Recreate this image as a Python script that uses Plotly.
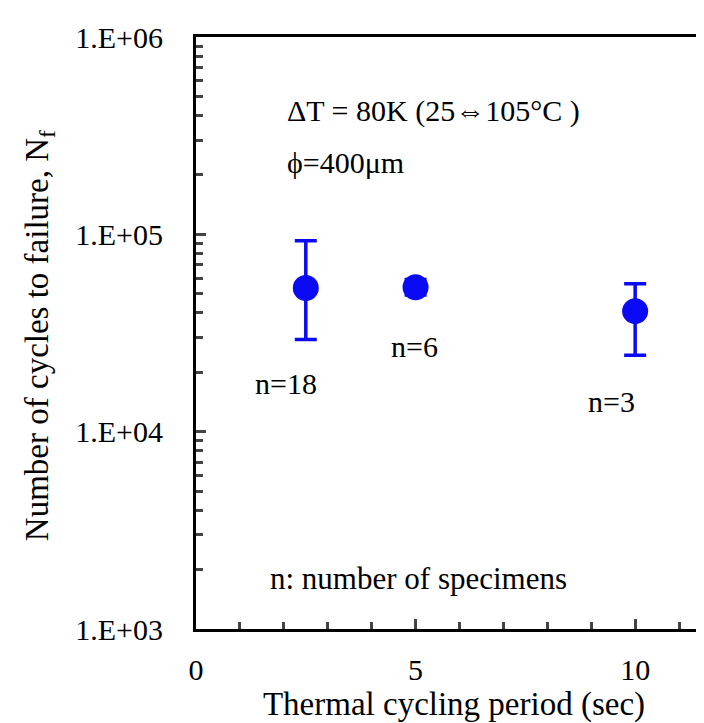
import math
import plotly.graph_objects as go

# thermal cycling period (sec) and cycles to failure
period = [2.5, 5, 10]
nf_mean = [53500, 53900, 40800]
nf_upper = [92900, 59000, 56100]
nf_lower = [29300, 49300, 24400]
n_labels = ["n=18", "n=6", "n=3"]
n_label_x = [2.05, 4.97, 9.45]
n_label_y = [17500, 26900, 14300]

ytick_vals = [1e3, 1e4, 1e5, 1e6]
ytick_text = ["1.E+03", "1.E+04", "1.E+05", "1.E+06"]

FONT = "Liberation Serif"
BLUE = "#0a0af5"

err_plus = [u - m for u, m in zip(nf_upper, nf_mean)]
err_minus = [m - l for m, l in zip(nf_mean, nf_lower)]

fig = go.Figure()
fig.add_trace(go.Scatter(
    x=period, y=nf_mean, mode="markers",
    marker=dict(size=26, color=BLUE),
    error_y=dict(type="data", symmetric=False, array=err_plus, arrayminus=err_minus,
                 color=BLUE, thickness=3.5, width=11),
    showlegend=False,
))

# annotations on a log axis take log10 positions
for lab, lx, ly in zip(n_labels, n_label_x, n_label_y):
    fig.add_annotation(x=lx, y=math.log10(ly), text=lab, showarrow=False,
                       font=dict(family=FONT, size=30, color="black"))

fig.add_annotation(x=2.03, y=5.625, text="ΔT = 80K (25⇔105°C )", showarrow=False,
                   xanchor="left", font=dict(family=FONT, size=30, color="black"))
fig.add_annotation(x=2.03, y=5.362, text="ϕ=400μm", showarrow=False,
                   xanchor="left", font=dict(family=FONT, size=30, color="black"))
fig.add_annotation(x=1.65, y=3.258, text="n: number of specimens", showarrow=False,
                   xanchor="left", font=dict(family=FONT, size=31, color="black"))
fig.add_annotation(x=-0.302, y=0.495, xref="paper", yref="paper", textangle=-90,
                   xanchor="center", yanchor="middle",
                   text="Number of cycles to failure, N<sub>f</sub>", showarrow=False,
                   font=dict(family=FONT, size=33, color="black"))

fig.update_xaxes(
    range=[0, 11.75], tickvals=[0, 5, 10], ticks="inside", ticklen=10, tickwidth=3,
    minor=dict(tickvals=[1, 2, 3, 4, 6, 7, 8, 9, 11], ticks="inside", ticklen=7, tickwidth=3),
    showline=True, linewidth=3, linecolor="black", mirror=True, showgrid=False, zeroline=False,
    ticklabelstandoff=12,
    tickfont=dict(family=FONT, size=30, color="black"),
    title=dict(text="Thermal cycling period (sec)", standoff=0,
               font=dict(family=FONT, size=33, color="black")),
)
minor_y = [m * 10 ** d for d in range(3, 6) for m in range(2, 10)]
fig.update_yaxes(
    type="log", range=[3, 6], tickvals=ytick_vals, ticktext=ytick_text,
    ticks="inside", ticklen=10, tickwidth=3,
    minor=dict(tickvals=minor_y, ticks="inside", ticklen=7, tickwidth=3),
    showline=True, linewidth=3, linecolor="black", mirror=False, showgrid=False,
    ticklabelstandoff=24,
    tickfont=dict(family=FONT, size=30, color="black"),
)
fig.update_layout(
    width=704, height=723, plot_bgcolor="white", paper_bgcolor="white",
    margin=dict(l=188, r=0, t=29, b=102),
)
fig.write_html("out.html")
